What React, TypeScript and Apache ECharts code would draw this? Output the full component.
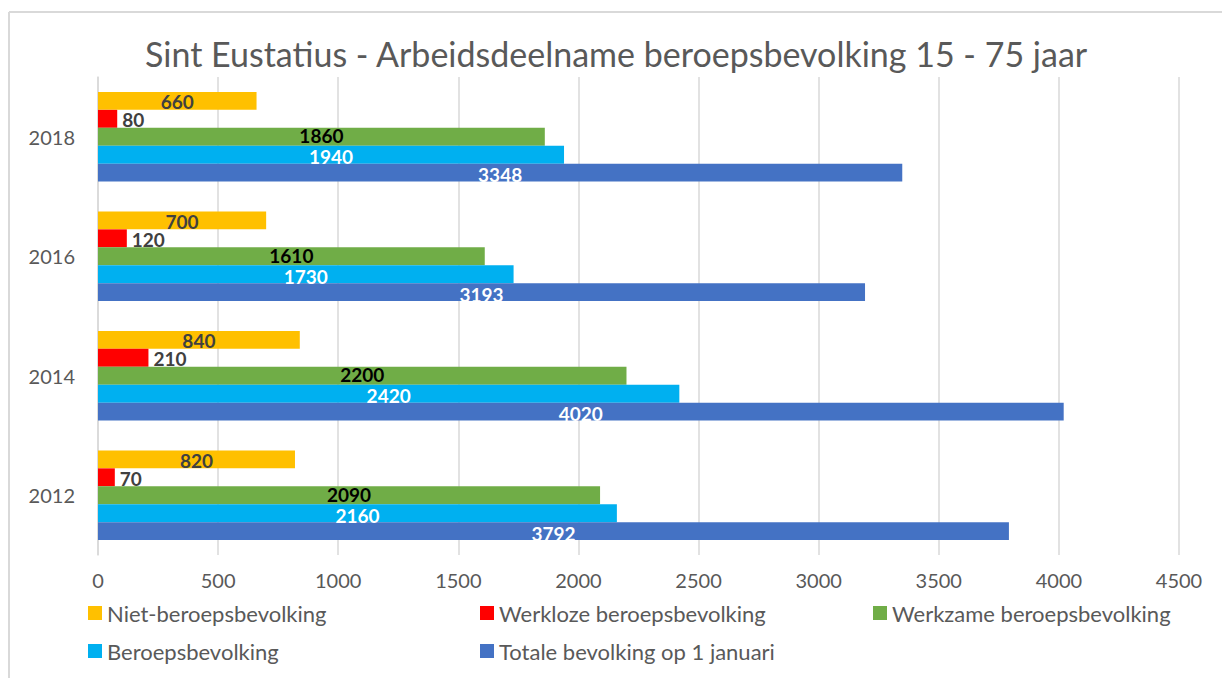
import React, { useEffect, useRef } from "react";
import * as echarts from "echarts";

const categories = ["2012", "2014", "2016", "2018"];
const nietBeroeps = [820, 840, 700, 660];
const werkloze = [70, 210, 120, 80];
const werkzame = [2090, 2200, 1610, 1860];
const beroeps = [2160, 2420, 1730, 1940];
const totale = [3792, 4020, 3193, 3348];

const seriesNames = [
  "Niet-beroepsbevolking",
  "Werkloze beroepsbevolking",
  "Werkzame beroepsbevolking",
  "Beroepsbevolking",
  "Totale bevolking op 1 januari",
];
const seriesData = [nietBeroeps, werkloze, werkzame, beroeps, totale];
const colors = ["#FFC000", "#FF0000", "#70AD47", "#00B0F0", "#4472C4"];
const labelColors = ["#404040", "#404040", "#000000", "#FFFFFF", "#FFFFFF"];
const labelPositions = ["inside", "right", "inside", "inside", "inside"];
const labelOffsets = [1, 1, -1, 2, 2];

const FONT = "Lato";

export default function App() {
  const ref = useRef<HTMLDivElement>(null);
  useEffect(() => {
    if (!ref.current) return;
    const chart = echarts.init(ref.current, undefined, { renderer: "svg" });
    const legendPos = [
      { left: 88, top: 602 },
      { left: 480, top: 602 },
      { left: 873, top: 602 },
      { left: 88, top: 640 },
      { left: 480, top: 640 },
    ];
    chart.setOption({
      animation: false,
      backgroundColor: "#ffffff",
      title: {
        text: "Sint Eustatius - Arbeidsdeelname beroepsbevolking 15 - 75 jaar",
        left: 145,
        top: 36,
        padding: 0,
        textStyle: {
          fontFamily: FONT,
          fontSize: 34,
          fontWeight: "normal",
          color: "#595959",
        },
      },
      legend: seriesNames.map((n, i) => ({
        data: [n],
        left: legendPos[i].left,
        top: legendPos[i].top,
        padding: 0,
        icon: "rect",
        itemWidth: 14,
        itemHeight: 14,
        selectedMode: false,
        textStyle: {
          fontFamily: FONT,
          fontSize: 22,
          lineHeight: 20,
          color: "#595959",
        },
      })),
      grid: { left: 98, right: 43, top: 77, bottom: 123, containLabel: false },
      xAxis: {
        type: "value",
        min: 0,
        max: 4500,
        interval: 500,
        axisLine: { show: false },
        axisTick: { show: false },
        splitLine: { lineStyle: { color: "#d9d9d9", width: 1.5 } },
        axisLabel: {
          fontFamily: FONT,
          fontSize: 20,
          color: "#595959",
          margin: 15,
          formatter: (v: number) => String(v),
        },
      },
      yAxis: {
        type: "category",
        data: categories,
        axisLine: { show: true, lineStyle: { color: "#d9d9d9", width: 1.5 } },
        axisTick: { show: false },
        axisLabel: {
          fontFamily: FONT,
          fontSize: 20,
          color: "#595959",
          margin: 23,
        },
      },
      series: seriesNames.map((n, i) => ({
        name: n,
        type: "bar",
        data: seriesData[i],
        barGap: "0%",
        barCategoryGap: "25%",
        itemStyle: { color: colors[i] },
        label: {
          show: true,
          position: labelPositions[i],
          distance: 5,
          offset: [0, labelOffsets[i]],
          fontFamily: FONT,
          fontSize: 19,
          lineHeight: 16,
          fontWeight: "bold",
          color: labelColors[i],
        },
      })),
      graphic: [
        {
          type: "line",
          shape: { x1: 9, y1: 12, x2: 1222, y2: 12 },
          style: { stroke: "#d9d9d9", lineWidth: 2 },
        },
        {
          type: "line",
          shape: { x1: 9, y1: 12, x2: 9, y2: 678 },
          style: { stroke: "#d9d9d9", lineWidth: 2 },
        },
      ],
    });
    return () => chart.dispose();
  }, []);
  return (
    <div
      ref={ref}
      style={{ position: "fixed", left: 0, top: 0, width: 1222, height: 678 }}
    />
  );
}
